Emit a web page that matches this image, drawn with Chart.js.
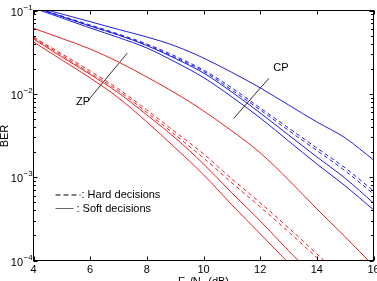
<!DOCTYPE html>
<html><head><meta charset="utf-8">
<script src="https://cdn.jsdelivr.net/npm/chart.js@4.4.0/dist/chart.umd.min.js"></script>
<style>html,body{margin:0;padding:0;background:#fff;overflow:hidden}canvas{display:block}</style>
</head><body>
<canvas id="c" width="377" height="281"></canvas>
<script>
// ---- data ----
const snr = [4,5,6,7,8,9,10,11,12,13,14,15,16];
// CP (blue)
const cpTop   = [0.112,0.0908,0.0734,0.0592,0.0481,0.0375,0.0269,0.0181,0.0118,0.00736,0.0046,0.00296,0.00161];
const cpHardA = [0.110,0.0859,0.0670,0.0522,0.0396,0.0284,0.0193,0.0118,0.00678,0.0039,0.00224,0.00129,0.000686];
const cpHardB = [0.1086,0.0847,0.0652,0.0508,0.0385,0.0273,0.0186,0.0111,0.00641,0.00364,0.00209,0.00119,0.00063];
const cpSoftA = [0.110,0.0847,0.0652,0.0508,0.0380,0.0266,0.0178,0.0105,0.0059,0.00321,0.00175,0.00097,0.00049];
const cpSoftB = [0.107,0.0813,0.0617,0.0474,0.0355,0.0241,0.0157,0.00918,0.00514,0.00272,0.00144,0.000787,0.000406];
// ZP (red)
const zpTop   = [0.0612,0.0462,0.0345,0.0241,0.0159,0.01025,0.00624,0.00359,0.00196,0.000928,0.000417,0.000192,0.0000864];
const zpHardA = [0.0481,0.0301,0.0188,0.01145,0.00641,0.00349,0.0019,0.000954,0.000492,0.000247,0.00012,0.0000587];
const zpHardB = [0.0468,0.0289,0.0178,0.01083,0.00598,0.00322,0.0017,0.000855,0.00044,0.000221,0.000108,0.0000526];
const zpSoftA = [0.0455,0.0277,0.0171,0.01025,0.00558,0.00296,0.00144,0.000648,0.000299,0.000131,0.0000603];
const zpSoftB = [0.0419,0.0255,0.0155,0.00893,0.0046,0.00225,0.00107,0.000466,0.000209,0.0000938,0.0000421];
// pointers (data coords)
const zpPointerX = [5.94,7.31];
const zpPointerY = [0.00843,0.0308];
const cpPointerX = [11.07,12.31];
const cpPointerY = [0.00509,0.01538];
// labels
const xTickLabels = [4,6,8,10,12,14,16];
const yDecades = [-1,-2,-3,-4];
const zpLabel = {text:'ZP', x:5.75, y:0.00788};
const cpLabel = {text:'CP', x:12.73, y:0.0207};
const legendItems = [': Hard decisions', ': Soft decisions'];

const BLUE = 'rgb(30,30,225)';
const RED = 'rgb(230,35,35)';
const FONT = '"Liberation Sans", Arial, sans-serif';

function pts(vals){ return vals.map((v,i)=>({x:snr[i], y:v})); }
function pair(xs, ys){ return xs.map((v,i)=>({x:v, y:ys[i]})); }
function ds(vals, color, dashed){
  return {data: pts(vals), borderColor: color, borderWidth: 1, borderDash: dashed ? [4,3] : [], pointRadius: 0, cubicInterpolationMode: 'monotone', fill: false};
}

const deco = {
  id: 'deco',
  afterDatasetsDraw(chart){
    const {ctx, chartArea: a, scales: {x, y}} = chart;
    ctx.save();
    ctx.strokeStyle = '#000'; ctx.lineWidth = 1; ctx.setLineDash([]);
    ctx.strokeRect(a.left, a.top, a.right - a.left, a.bottom - a.top);
    ctx.beginPath();
    for (const t of xTickLabels){
      const px = Math.round(x.getPixelForValue(t)) + 0.5;
      ctx.moveTo(px, a.bottom); ctx.lineTo(px, a.bottom - 4);
      ctx.moveTo(px, a.top); ctx.lineTo(px, a.top + 4);
    }
    for (const e of yDecades){
      for (let m = 1; m <= 9; m++){
        const v = m * Math.pow(10, e);
        if (v > 0.1 + 1e-12) continue;
        const py = Math.round(y.getPixelForValue(v)) + 0.5;
        const len = m === 1 ? 4 : 2.5;
        ctx.moveTo(a.left, py); ctx.lineTo(a.left + len, py);
        ctx.moveTo(a.right, py); ctx.lineTo(a.right - len, py);
      }
    }
    ctx.stroke();
    ctx.fillStyle = '#000';
    ctx.font = '11px ' + FONT;
    ctx.textAlign = 'center'; ctx.textBaseline = 'alphabetic';
    for (const t of xTickLabels){
      ctx.fillText(String(t), x.getPixelForValue(t), a.bottom + 12);
    }
    for (const e of yDecades){
      const py = y.getPixelForValue(Math.pow(10, e));
      ctx.font = '11px ' + FONT;
      ctx.textAlign = 'right';
      ctx.fillText('10', 23, py + 5);
      ctx.font = '8px ' + FONT;
      ctx.textAlign = 'left';
      ctx.fillText('\u2212' + Math.abs(e), 23.5, py - 1);
    }
    ctx.font = '11px ' + FONT;
    ctx.save();
    ctx.translate(7.5, 136);
    ctx.rotate(-Math.PI / 2);
    ctx.textAlign = 'center';
    ctx.fillText('BER', 0, 0);
    ctx.restore();
    {
      const cx = (a.left + a.right) / 2;
      const base = a.bottom + 24;
      const parts = [['E',11,0],['b',8,3],['/N',11,0],['0',8,3],[' (dB)',11,0]];
      let w = 0;
      for (const p of parts){ ctx.font = p[1] + 'px ' + FONT; w += ctx.measureText(p[0]).width; }
      let xx = cx - w / 2;
      ctx.textAlign = 'left';
      for (const p of parts){ ctx.font = p[1] + 'px ' + FONT; ctx.fillText(p[0], xx, base + p[2]); xx += ctx.measureText(p[0]).width; }
    }
    ctx.font = '11px ' + FONT;
    ctx.textAlign = 'center'; ctx.textBaseline = 'middle';
    for (const L of [zpLabel, cpLabel]){
      ctx.fillText(L.text, x.getPixelForValue(L.x), y.getPixelForValue(L.y));
    }
    const lx = a.left + 22, ly1 = a.top + 184.5, ly2 = a.top + 198;
    ctx.strokeStyle = '#000'; ctx.setLineDash([5,3]);
    ctx.beginPath(); ctx.moveTo(lx, ly1); ctx.lineTo(lx + 25, ly1); ctx.stroke();
    ctx.setLineDash([]); ctx.strokeStyle = '#666';
    ctx.beginPath(); ctx.moveTo(lx, ly2); ctx.lineTo(lx + 18, ly2); ctx.stroke();
    ctx.textAlign = 'left'; ctx.textBaseline = 'middle';
    ctx.fillText(legendItems[0], lx + 26, ly1);
    ctx.fillText(legendItems[1], lx + 21, ly2 + 0.5);
    ctx.restore();
  }
};

new Chart(document.getElementById('c'), {
  type: 'line',
  data: {
    datasets: [
      ds(cpTop, BLUE, false),
      ds(cpHardA, BLUE, true),
      ds(cpHardB, BLUE, true),
      ds(cpSoftA, BLUE, false),
      ds(cpSoftB, BLUE, false),
      ds(zpTop, RED, false),
      ds(zpHardA, RED, true),
      ds(zpHardB, RED, true),
      ds(zpSoftA, RED, false),
      ds(zpSoftB, RED, false),
      {data: pair(zpPointerX, zpPointerY), borderColor: '#333', borderWidth: 1, pointRadius: 0, tension: 0},
      {data: pair(cpPointerX, cpPointerY), borderColor: '#333', borderWidth: 1, pointRadius: 0, tension: 0}
    ]
  },
  options: {
    responsive: false,
    animation: false,
    events: [],
    layout: {padding: {left: 33.5, right: 3.5, top: 10.5, bottom: 20.5}},
    plugins: {legend: {display: false}, tooltip: {enabled: false}},
    scales: {
      x: {type: 'linear', min: 4, max: 16, display: false},
      y: {type: 'logarithmic', min: 1e-4, max: 1e-1, display: false}
    }
  },
  plugins: [deco]
});
</script>
</body></html>
